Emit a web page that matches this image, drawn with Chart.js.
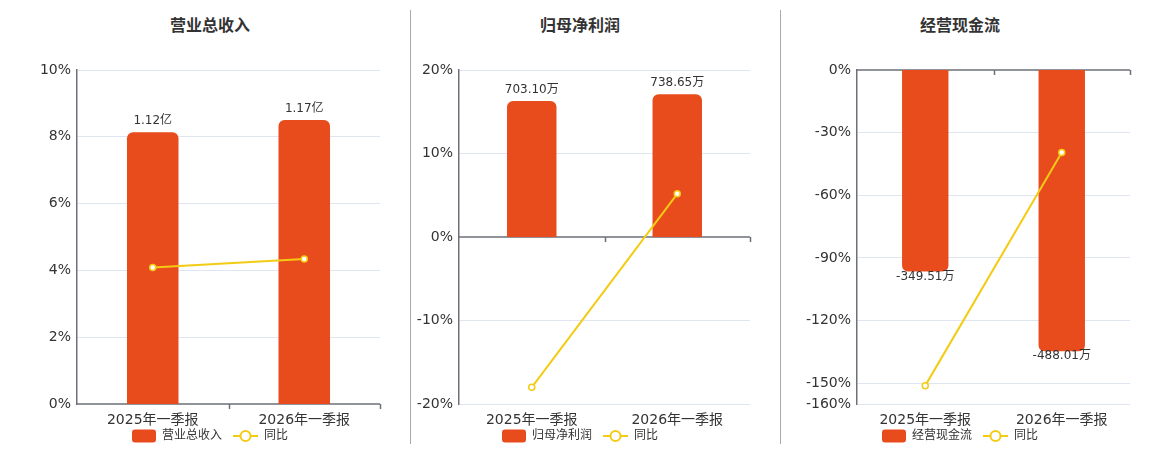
<!DOCTYPE html>
<html lang="zh-CN">
<head>
<meta charset="UTF-8">
<title>营业总收入 / 归母净利润 / 经营现金流</title>
<script src="https://cdn.jsdelivr.net/npm/chart.js"></script>
<style>
    body { margin: 0; background: #fff; width: 1160px; height: 450px; position: relative; overflow: hidden; }
    .panel { position: absolute; top: 0; height: 450px; }
    .divider { position: absolute; top: 10px; height: 434px; width: 1px; background: #aaa; }
    .title { position: absolute; top: 12px; width: 200px; line-height: 20px; text-align: center;
             font: bold 16px 'Noto Sans CJK SC', sans-serif; color: #333; }
</style>
</head>
<body>
<div class="divider" style="left:410px"></div>
<div class="divider" style="left:780px"></div>
<div class="title" style="left:110px">营业总收入</div>
<div class="title" style="left:480px">归母净利润</div>
<div class="title" style="left:860px">经营现金流</div>
<div class="panel" style="left:0px;width:400px"><canvas id="c1"></canvas></div>
<div class="panel" style="left:405px;width:365px"><canvas id="c2"></canvas></div>
<div class="panel" style="left:785px;width:365px"><canvas id="c3"></canvas></div>

<script>
// datos
const categories = ['2025年一季报', '2026年一季报'];

const revenue = [1.12, 1.17];          // 亿
const revenueYoy = [4.09, 4.34];       // %
const revenueTicks = [0, 2, 4, 6, 8, 10];

const netProfit = [703.10, 738.65];    // 万
const netProfitYoy = [-18.0, 5.17];
const netProfitTicks = [-20, -10, 0, 10, 20];

const cashFlow = [-349.51, -488.01];   // 万
const cashFlowYoy = [-151.2, -39.5];
const cashFlowTicks = [-160, -150, -120, -90, -60, -30, 0];

const BAR = '#e84c1d';
const LINE = '#f4cb14';
const FONT = "'DejaVu Sans', 'Noto Sans CJK SC', sans-serif";

// icono de leyenda: 9px en blanco a la izquierda para separar los elementos
function legendIcon(type) {
    const c = document.createElement('canvas');
    c.width = 34; c.height = 14;
    const g = c.getContext('2d');
    if (type === 'bar') {
        g.fillStyle = BAR;
        g.beginPath(); g.roundRect(10, 0.5, 24, 13, 3); g.fill();
    } else {
        g.strokeStyle = LINE; g.lineWidth = 2;
        g.beginPath(); g.moveTo(9, 7); g.lineTo(34, 7); g.stroke();
        g.fillStyle = '#fff';
        g.beginPath(); g.arc(21.5, 7, 5, 0, Math.PI * 2); g.fill(); g.stroke();
    }
    return c;
}

// etiquetas de valor sobre / bajo las barras
const barLabels = {
    id: 'barLabels',
    afterDatasetsDraw(chart, args, opts) {
        const { ctx } = chart;
        const meta = chart.getDatasetMeta(0);
        const data = chart.data.datasets[0].data;
        ctx.save();
        ctx.font = '12px ' + FONT;
        ctx.fillStyle = '#333';
        ctx.textAlign = 'center';
        ctx.textBaseline = 'middle';
        meta.data.forEach((bar, i) => {
            const v = data[i];
            const txt = v.toFixed(2) + opts.unit;
            if (v >= 0) ctx.fillText(txt, bar.x, bar.y - 11);
            else ctx.fillText(txt, bar.x, bar.y + 5);
        });
        ctx.restore();
    }
};

// línea del cero con marcas entre categorías
const zeroAxis = {
    id: 'zeroAxis',
    beforeDatasetsDraw(chart) {
        const { ctx, chartArea, scales: { x, y } } = chart;
        const y0 = y.getPixelForValue(0);
        const half = (x.getPixelForValue(1) - x.getPixelForValue(0)) / 2;
        ctx.save();
        ctx.strokeStyle = '#6e7079';
        ctx.lineWidth = 1.5;
        ctx.beginPath();
        ctx.moveTo(chartArea.left, y0);
        ctx.lineTo(chartArea.right, y0);
        for (let i = 0; i < chart.data.labels.length; i++) {
            const px = Math.round(x.getPixelForValue(i) + half) + 0.5;
            ctx.moveTo(px, y0);
            ctx.lineTo(px, y0 + 5);
        }
        ctx.stroke();
        ctx.restore();
    }
};

function makeChart(id, cfg) {
    const ticks = cfg.ticks;
    const tMin = Math.min(...ticks), tMax = Math.max(...ticks);
    const maxAbs = Math.max(...cfg.values.map(Math.abs));
    const positive = cfg.values[0] >= 0;
    const extent = positive ? tMax : -tMin;
    const k = maxAbs / (cfg.fill * extent);

    return new Chart(document.getElementById(id), {
        data: {
            labels: categories,
            datasets: [
                {
                    type: 'bar',
                    label: cfg.name,
                    data: cfg.values,
                    yAxisID: 'y1',
                    backgroundColor: BAR,
                    borderRadius: 6,
                    borderSkipped: 'start',
                    categoryPercentage: 0.34,
                    barPercentage: 1,
                    order: 1
                },
                {
                    type: 'line',
                    label: '同比',
                    data: cfg.yoy,
                    yAxisID: 'y',
                    borderColor: LINE,
                    borderWidth: 2,
                    pointRadius: 3,
                    pointBackgroundColor: '#fff',
                    pointBorderColor: LINE,
                    pointBorderWidth: 1.5,
                    tension: 0,
                    order: 0
                }
            ]
        },
        options: {
            responsive: true,
            maintainAspectRatio: false,
            animation: false,
            layout: { padding: { left: cfg.padLeft, right: 20, top: 70, bottom: -2 } },
            plugins: {
                title: { display: false },
                legend: {
                    position: 'bottom',
                    labels: {
                        usePointStyle: true,
                        pointStyleWidth: 34,
                        padding: 2,
                        color: '#333',
                        font: { family: FONT, size: 12 },
                        generateLabels: (chart) => chart.data.datasets.map((ds, i) => ({
                            text: ds.label,
                            pointStyle: legendIcon(ds.type),
                            fontColor: '#333',
                            datasetIndex: i,
                            hidden: false,
                            lineWidth: 0
                        }))
                    }
                },
                tooltip: { enabled: false },
                barLabels: { unit: cfg.unit }
            },
            scales: {
                x: {
                    grid: { display: false, drawTicks: false },
                    border: { display: false },
                    ticks: { color: '#333', font: { family: FONT, size: 14 }, padding: 8 },
                    afterFit: (s) => { s.height = 24; }
                },
                y: {
                    position: 'left',
                    min: tMin,
                    max: tMax,
                    afterBuildTicks: (s) => { s.ticks = ticks.map(v => ({ value: v })); },
                    grid: {
                        drawTicks: false,
                        color: (c) => c.tick && c.tick.value === 0 ? 'rgba(0,0,0,0)' : '#e0e6f1'
                    },
                    border: { display: true, color: '#6e7079', width: 1.5 },
                    ticks: {
                        color: '#333',
                        font: { family: FONT, size: 14 },
                        padding: 6,
                        callback: (v) => v + '%'
                    },
                    afterFit: (s) => { s.width = cfg.yWidth; }
                },
                y1: {
                    display: false,
                    min: tMin * k,
                    max: tMax * k
                }
            }
        },
        plugins: [zeroAxis, barLabels]
    });
}

makeChart('c1', {
    name: '营业总收入', unit: '亿',
    values: revenue, yoy: revenueYoy, ticks: revenueTicks,
    fill: 0.85, padLeft: 30, yWidth: 47
});
makeChart('c2', {
    name: '归母净利润', unit: '万',
    values: netProfit, yoy: netProfitYoy, ticks: netProfitTicks,
    fill: 0.855, padLeft: -5, yWidth: 59
});
makeChart('c3', {
    name: '经营现金流', unit: '万',
    values: cashFlow, yoy: cashFlowYoy, ticks: cashFlowTicks,
    fill: 0.842, padLeft: -5, yWidth: 77
});
</script>
</body>
</html>
